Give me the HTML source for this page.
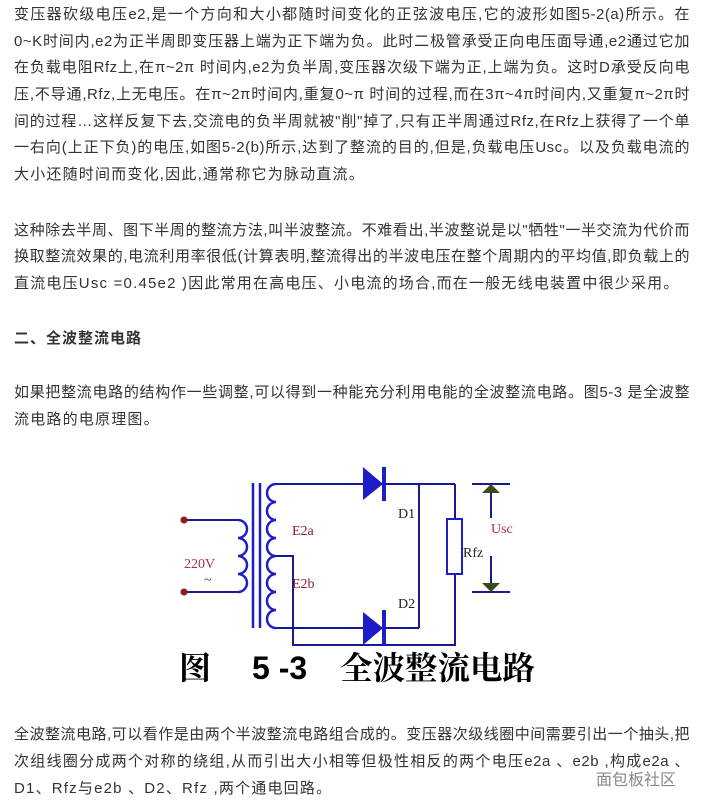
<!DOCTYPE html>
<html><head><meta charset="utf-8"><style>
body{margin:0;width:702px;height:807px;background:#fff;position:relative;overflow:hidden;font-family:"Liberation Sans","Noto Sans CJK SC",sans-serif;color:#333;}
.l{position:absolute;left:14px;font-size:15px;line-height:20px;white-space:nowrap;}
.j{width:676px;text-align:justify;text-align-last:justify;white-space:normal;letter-spacing:0.5px;}
</style></head><body>
<div class="l j" style="top:5px">变压器砍级电压e2,是一个方向和大小都随时间变化的正弦波电压,它的波形如图5-2(a)所示。在</div>
<div class="l j" style="top:32px">0~K时间内,e2为正半周即变压器上端为正下端为负。此时二极管承受正向电压面导通,e2通过它加</div>
<div class="l j" style="top:58px">在负载电阻Rfz上,在π~2π 时间内,e2为负半周,变压器次级下端为正,上端为负。这时D承受反向电</div>
<div class="l j" style="top:85px">压,不导通,Rfz,上无电压。在π~2π时间内,重复0~π 时间的过程,而在3π~4π时间内,又重复π~2π时</div>
<div class="l j" style="top:112px">间的过程…这样反复下去,交流电的负半周就被"削"掉了,只有正半周通过Rfz,在Rfz上获得了一个单</div>
<div class="l j" style="top:138px">一右向(上正下负)的电压,如图5-2(b)所示,达到了整流的目的,但是,负载电压Usc。以及负载电流的</div>
<div class="l" style="top:165px;letter-spacing:1.2px">大小还随时间而变化,因此,通常称它为脉动直流。</div>
<div class="l j" style="top:221px">这种除去半周、图下半周的整流方法,叫半波整流。不难看出,半波整说是以"牺牲"一半交流为代价而</div>
<div class="l j" style="top:247px">换取整流效果的,电流利用率很低(计算表明,整流得出的半波电压在整个周期内的平均值,即负载上的</div>
<div class="l" style="top:274px;letter-spacing:1.2px">直流电压Usc =0.45e2 )因此常用在高电压、小电流的场合,而在一般无线电装置中很少采用。</div>
<div class="l" style="top:329px;font-weight:bold;letter-spacing:1px">二、全波整流电路</div>
<div class="l j" style="top:383px">如果把整流电路的结构作一些调整,可以得到一种能充分利用电能的全波整流电路。图5-3 是全波整</div>
<div class="l" style="top:410px;letter-spacing:1.2px">流电路的电原理图。</div>
<div class="l j" style="top:725px">全波整流电路,可以看作是由两个半波整流电路组合成的。变压器次级线圈中间需要引出一个抽头,把</div>
<div class="l j" style="top:752px">次组线圈分成两个对称的绕组,从而引出大小相等但极性相反的两个电压e2a 、e2b ,构成e2a 、</div>
<div class="l" style="top:779px;letter-spacing:1.2px">D1、Rfz与e2b 、D2、Rfz ,两个通电回路。</div>
<div style="position:absolute;left:596px;top:766px;font-size:16px;color:#888">面包板社区</div>
<svg style="position:absolute;left:0;top:0" width="702" height="807">
<g fill="none" stroke="#1e1ec8" stroke-width="2.5">
<line x1="253" y1="483" x2="253" y2="628"/><line x1="260" y1="483" x2="260" y2="628"/>
<path d="M238 520 a9 9 0 0 1 0 18 a9 9 0 0 1 0 18 a9 9 0 0 1 0 18 a9 9 0 0 1 0 18"/>
<path d="M276 484 a9 9 0 0 0 0 18 a9 9 0 0 0 0 18 a9 9 0 0 0 0 18 a9 9 0 0 0 0 18 a9 9 0 0 0 0 18 a9 9 0 0 0 0 18 a9 9 0 0 0 0 18 a9 9 0 0 0 0 18"/>
</g>
<g fill="none" stroke="#1a1a90" stroke-width="2">
<line x1="184" y1="520" x2="238" y2="520"/><line x1="184" y1="592" x2="238" y2="592"/>
<line x1="276" y1="484" x2="455" y2="484"/>
<line x1="276" y1="628" x2="419" y2="628"/>
<line x1="419" y1="484" x2="419" y2="628"/>
<polyline points="276,556 293,556 293,645 455,645 455,484"/>
<line x1="472" y1="484" x2="510" y2="484"/><line x1="472" y1="592" x2="510" y2="592"/>
<line x1="491" y1="493" x2="491" y2="518"/><line x1="491" y1="556" x2="491" y2="583"/>
</g>
<rect x="447" y="519" width="15" height="55" fill="#fff" stroke="#1e1ec8" stroke-width="2"/>
<circle cx="184" cy="520" r="3.5" fill="#8b1a1a"/><circle cx="184" cy="592" r="3.5" fill="#8b1a1a"/>
<polygon points="363,467 383,484 363,500" fill="#1e1ec8"/><rect x="382" y="467" width="4" height="34" fill="#1e1ec8"/>
<polygon points="363,612 383,628 363,645" fill="#1e1ec8"/><rect x="382" y="610" width="4" height="36" fill="#1e1ec8"/>
<polygon points="482,493 491,484 500,493" fill="#3a4a1a"/><polygon points="482,583 491,592 500,583" fill="#3a4a1a"/>
<g font-family="Liberation Serif,serif" font-size="14">
<text x="292" y="535" fill="#8b1a2a">E2a</text><text x="292" y="588" fill="#8b1a2a">E2b</text>
<text x="398" y="518" fill="#222">D1</text><text x="398" y="608" fill="#222">D2</text>
<text x="463" y="557" fill="#222">Rfz</text><text x="491" y="533" fill="#b03050">Usc</text>
<text x="184" y="568" fill="#b03050">220V</text><text x="204" y="584" fill="#333">~</text>
</g>
<g font-family="Liberation Serif,'Noto Serif CJK SC',serif" font-size="32" fill="#000" font-weight="bold">
<text x="179" y="679">图</text><text x="252" y="679" font-family="Liberation Sans,sans-serif">5 -3</text>
<text x="340" y="679" textLength="195" lengthAdjust="spacingAndGlyphs">全波整流电路</text>
</g>
</svg>
</body></html>
